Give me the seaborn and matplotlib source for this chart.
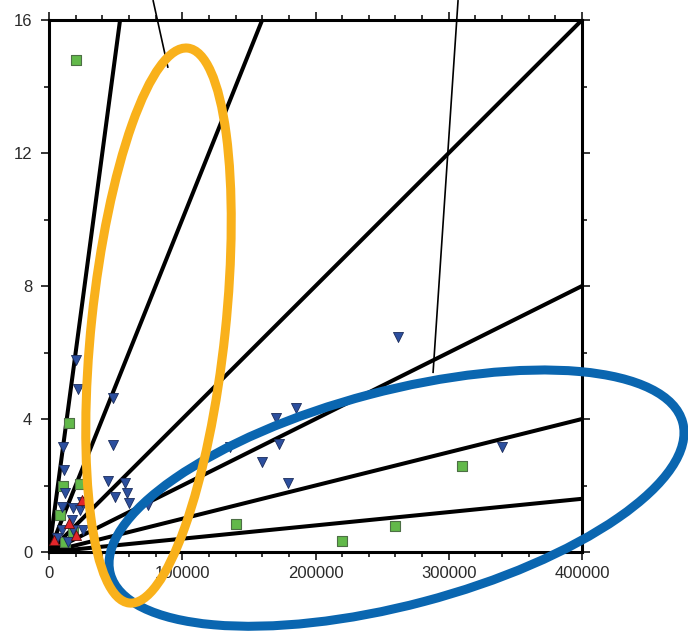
import numpy as np
import pandas as pd
import matplotlib
matplotlib.use("Agg")
import matplotlib.pyplot as plt
import matplotlib.transforms as mtransforms
from matplotlib.patches import Ellipse
from matplotlib.ticker import FixedLocator, MultipleLocator
import seaborn as sns

# Ratios (y per unit x) of the reference lines fanning out of the origin
slopes = [3e-4, 1e-4, 4e-5, 2e-5, 1e-5, 4e-6]

# Square markers
green_x = [20250, 15000, 10700, 23000, 8250, 18250, 12000, 140000, 220000, 260000, 310000]
green_y = [14.8, 3.88, 2.0, 2.05, 1.1, 0.6, 0.3, 0.84, 0.34, 0.79, 2.6]

# Down-pointing triangles
blue_x = [261700, 340000, 185000, 170400, 172600, 159600, 179600, 135800,
          20250, 21500, 48250, 48250, 10750, 11250, 44500, 57000, 49500,
          58300, 60300, 74500, 12000, 9500, 18250, 23250, 24500, 17000,
          9500, 18250, 25750, 5750, 14500]
blue_y = [6.48, 3.17, 4.32, 4.02, 3.24, 2.70, 2.08, 3.17,
          5.77, 4.89, 4.62, 3.22, 3.17, 2.47, 2.13, 2.07, 1.66,
          1.78, 1.46, 1.41, 1.77, 1.36, 1.31, 1.26, 1.51, 0.96,
          0.66, 0.66, 0.66, 0.41, 0.30]

# Up-pointing triangles
red_x = [15000, 24500, 3500, 20000]
red_y = [0.86, 1.55, 0.36, 0.50]

x_ticks = [0, 100000, 200000, 300000, 400000]
x_labels = ["0", "100000", "200000", "300000", "400000"]
y_ticks = [0, 4, 8, 12, 16]
y_labels = ["0", "4", "8", "12", "16"]

sns.set_theme(style="white")
plt.rcParams["font.family"] = ["Liberation Sans", "DejaVu Sans"]

fig = plt.figure(figsize=(6.88, 6.31), dpi=100)
ax = fig.add_axes([49 / 688, 79 / 631, 533 / 688, 532 / 631])

# Fan of lines through the origin
fan = pd.DataFrame({
    "slope": np.repeat(slopes, 2),
    "x": np.tile([0, x_ticks[-1]], len(slopes)),
})
fan["y"] = fan["slope"] * fan["x"]
sns.lineplot(data=fan, x="x", y="y", units="slope", estimator=None, sort=False,
             color="black", linewidth=2.9, ax=ax, legend=False, zorder=2)

# Point groups
sns.scatterplot(x=green_x, y=green_y, marker="s", s=42, color="#62b94a",
                edgecolor="#4d6f45", linewidth=0.8, ax=ax, zorder=3)
sns.scatterplot(x=blue_x, y=blue_y, marker="v", s=52, color="#2c4f9e",
                edgecolor="#1a2c5c", linewidth=0.6, ax=ax, zorder=3)
sns.scatterplot(x=red_x, y=red_y, marker="^", s=52, color="#e3262b",
                edgecolor="#5a1010", linewidth=0.6, ax=ax, zorder=3)

# Leader lines running off the top of the frame
ax.plot([78050, 89300], [16.6, 14.56], color="black", lw=1.2,
        clip_on=False, zorder=4, solid_capstyle="butt")
ax.plot([307000, 288200], [16.6, 5.38], color="black", lw=1.2,
        clip_on=False, zorder=4, solid_capstyle="butt")


def ring(cx, cy, w_in, h_in, angle, color, z):
    tr = fig.dpi_scale_trans + mtransforms.ScaledTranslation(cx, cy, ax.transData)
    e = Ellipse((0, 0), w_in, h_in, angle=angle, transform=tr, fill=False,
                edgecolor=color, linewidth=6.5, clip_on=False, zorder=z)
    ax.add_patch(e)


ring(260800, 1.62, 5.92, 2.14, 14.8, "#0a66b0", 5)
ring(82180, 6.81, 1.34, 5.58, -6.0, "#f9b11b", 6)

ax.set_xlim(0, 400000)
ax.set_ylim(0, 16)
ax.set_xlabel("")
ax.set_ylabel("")

ax.xaxis.set_major_locator(FixedLocator(x_ticks))
ax.set_xticklabels(x_labels)
ax.yaxis.set_major_locator(FixedLocator(y_ticks))
ax.set_yticklabels(y_labels)
ax.xaxis.set_minor_locator(MultipleLocator(20000))
ax.yaxis.set_minor_locator(MultipleLocator(2))

for sp in ax.spines.values():
    sp.set_visible(True)
    sp.set_color("black")
    sp.set_linewidth(2.2)

ax.tick_params(which="both", direction="out", top=True, right=True,
               bottom=True, left=True, labeltop=False, labelright=False,
               color="black", width=1.1)
ax.tick_params(which="major", length=6)
ax.tick_params(which="minor", length=3.5)
ax.tick_params(axis="x", which="major", pad=4, labelsize=12, labelcolor="#2a2a2a")
ax.tick_params(axis="y", which="major", pad=6, labelsize=12, labelcolor="#2a2a2a")

fig.savefig("out.png", dpi=100)
